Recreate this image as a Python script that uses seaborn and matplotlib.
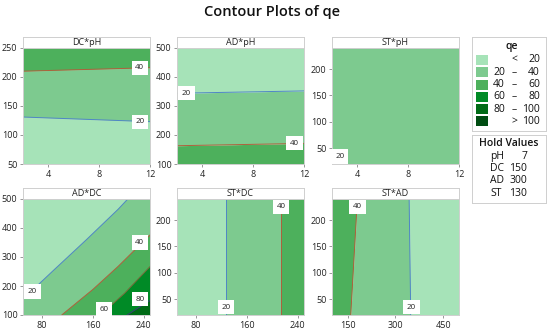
import numpy as np
import matplotlib
matplotlib.use("Agg")
import matplotlib.pyplot as plt
import seaborn as sns
from matplotlib.patches import Rectangle

# ranges of the factors
ph_range = [2, 12]
dc_range = [50, 250]
ad_range = [100, 500]
st_range = [20, 240]

# qe bands and their colours
band_labels = [("", "<", "20"), ("20", "\u2013", "40"), ("40", "\u2013", "60"),
               ("60", "\u2013", "80"), ("80", "\u2013", "100"), ("", ">", "100")]
band_colors = ["#a6e3b8", "#7dca8f", "#4db05c", "#008a26", "#006b16", "#004d12"]
line_colors = {20: "#4f86c6", 40: "#b0603c", 60: "#7a6a3a", 80: "#3b3b7a"}

hold_names = ["pH", "DC", "AD", "ST"]
hold_values = ["7", "150", "300", "130"]

# contour lines
dcph_x = [2, 12]
dcph_20 = [131, 123]
dcph_40 = [210, 216]

adph_x = [2, 12]
adph_20 = [344, 352]
adph_40 = [163, 171]

stph_20_x = [2, 2.5]
stph_20_y = [47, 20]

addc_20_x = [50, 100, 150, 200, 215]
addc_20_y = [155, 258, 360, 465, 500]
addc_40_x = [111, 160, 200, 250]
addc_40_y = [100, 188, 268, 376]
addc_60_x = [172, 210, 250]
addc_60_y = [100, 175, 267]
addc_80_x = [214, 250]
addc_80_y = [100, 150]

stdc_20 = 127
stdc_40 = 214

stad_y = [20, 240]
stad_40 = [159, 180]
stad_20 = [348, 343]

W, H = 550, 331
sns.set_theme(style="white")
plt.rcParams["font.family"] = ["Open Sans", "DejaVu Sans"]

fig = plt.figure(figsize=(W / 100, H / 100), dpi=100)
fig.patch.set_facecolor("white")


def px_axes(l, t, r, b):
    return fig.add_axes([l / W, 1 - b / H, (r - l) / W, (b - t) / H])


def panel(l, t, r, b, title, xr, yr, xt, yt):
    hdr = px_axes(l, t - 11.5, r, t)
    hdr.set_xticks([]); hdr.set_yticks([])
    for s in hdr.spines.values():
        s.set_color("#cfcfcf"); s.set_linewidth(0.7)
    hdr.text(0.5, 0.45, title, ha="center", va="center", fontsize=6.5,
             transform=hdr.transAxes, color="#222222")
    ax = px_axes(l, t, r, b)
    ax.set_xlim(xr); ax.set_ylim(yr)
    ax.set_xticks(xt); ax.set_yticks(yt)
    ax.tick_params(axis="both", which="both", direction="out", length=2.5, width=0.6,
                   color="#888888", labelsize=6.5, labelcolor="#222222", pad=1.5,
                   bottom=True, left=True)
    for s in ax.spines.values():
        s.set_color("#cfcfcf"); s.set_linewidth(0.7)
    return ax


def cline(ax, x, y, level):
    sns.lineplot(x=x, y=y, ax=ax, sort=False, estimator=None, color=line_colors[level],
                 lw=0.7, legend=False)


def clabel(ax, x, y, txt):
    ax.text(x, y, txt, ha="center", va="center", fontsize=5.8, color="#222222", zorder=5,
            bbox=dict(boxstyle="square,pad=0.45", fc="white", ec="none"))


fill = dict(lw=0, antialiased=False)

# DC*pH
ax = panel(23, 48, 150, 164, "DC*pH", ph_range, dc_range, [4, 8, 12], [50, 100, 150, 200, 250])
ax.fill_between(dcph_x, dc_range[0], dcph_20, color=band_colors[0], **fill)
ax.fill_between(dcph_x, dcph_20, dcph_40, color=band_colors[1], **fill)
ax.fill_between(dcph_x, dcph_40, dc_range[1], color=band_colors[2], **fill)
cline(ax, dcph_x, dcph_20, 20)
cline(ax, dcph_x, dcph_40, 40)
clabel(ax, 11.2, 123, "20")
clabel(ax, 11.2, 216, "40")

# AD*pH
ax = panel(177, 48, 304, 164, "AD*pH", ph_range, ad_range, [4, 8, 12], [100, 200, 300, 400, 500])
ax.fill_between(adph_x, ad_range[0], adph_40, color=band_colors[2], **fill)
ax.fill_between(adph_x, adph_40, adph_20, color=band_colors[1], **fill)
ax.fill_between(adph_x, adph_20, ad_range[1], color=band_colors[0], **fill)
cline(ax, adph_x, adph_20, 20)
cline(ax, adph_x, adph_40, 40)
clabel(ax, 2.75, 344, "20")
clabel(ax, 11.25, 172, "40")

# ST*pH
ax = panel(332, 48, 459, 164, "ST*pH", ph_range, st_range, [4, 8, 12], [50, 100, 150, 200])
ax.fill_between(ph_range, st_range[0], st_range[1], color=band_colors[1], **fill)
ax.fill([ph_range[0]] + stph_20_x, [st_range[0]] + stph_20_y, color=band_colors[0], lw=0)
cline(ax, stph_20_x, stph_20_y, 20)
clabel(ax, 2.65, 34, "20")

# AD*DC
ax = panel(23, 199, 150, 315, "AD*DC", dc_range, ad_range, [80, 160, 240], [100, 200, 300, 400, 500])
ax.fill_between(dc_range, ad_range[0], ad_range[1], color=band_colors[0], **fill)
ax.fill(addc_20_x + [dc_range[1], dc_range[1], dc_range[0]],
        addc_20_y + [ad_range[1], ad_range[0], ad_range[0]], color=band_colors[1], lw=0)
for xs, ys, k in [(addc_40_x, addc_40_y, 2), (addc_60_x, addc_60_y, 3), (addc_80_x, addc_80_y, 4)]:
    ax.fill(xs + [dc_range[1]], ys + [ad_range[0]], color=band_colors[k], lw=0)
cline(ax, addc_20_x, addc_20_y, 20)
cline(ax, addc_40_x, addc_40_y, 40)
cline(ax, addc_60_x, addc_60_y, 60)
cline(ax, addc_80_x, addc_80_y, 80)
clabel(ax, 65, 181, "20")
clabel(ax, 234, 350, "40")
clabel(ax, 177, 119, "60")
clabel(ax, 234, 155, "80")

# ST*DC
ax = panel(177, 199, 304, 315, "ST*DC", dc_range, st_range, [80, 160, 240], [50, 100, 150, 200])
ax.fill_betweenx(st_range, dc_range[0], stdc_20, color=band_colors[0], **fill)
ax.fill_betweenx(st_range, stdc_20, stdc_40, color=band_colors[1], **fill)
ax.fill_betweenx(st_range, stdc_40, dc_range[1], color=band_colors[2], **fill)
cline(ax, [stdc_20, stdc_20], st_range, 20)
cline(ax, [stdc_40, stdc_40], st_range, 40)
clabel(ax, 214, 225, "40")
clabel(ax, 127, 35, "20")

# ST*AD
ax = panel(332, 199, 459, 315, "ST*AD", ad_range, st_range, [150, 300, 450], [50, 100, 150, 200])
ax.fill_betweenx(stad_y, ad_range[0], stad_40, color=band_colors[2], **fill)
ax.fill_betweenx(stad_y, stad_40, stad_20, color=band_colors[1], **fill)
ax.fill_betweenx(stad_y, stad_20, ad_range[1], color=band_colors[0], **fill)
cline(ax, stad_40, stad_y, 40)
cline(ax, stad_20, stad_y, 20)
clabel(ax, 180, 225, "40")
clabel(ax, 350, 35, "20")

# legend box
lg = px_axes(472, 37, 546, 131)
lg.set_xlim(472, 546); lg.set_ylim(131, 37)
lg.set_xticks([]); lg.set_yticks([])
for s in lg.spines.values():
    s.set_color("#cfcfcf"); s.set_linewidth(0.7)
lg.text(512, 47, "qe", ha="center", va="center", fontsize=7.5, fontweight="semibold", color="#111111")
for i, (lo, sym, hi) in enumerate(band_labels):
    yc = 60 + i * 12.3
    lg.add_patch(Rectangle((476, yc - 5), 12, 10, color=band_colors[i], lw=0))
    if lo:
        lg.text(499, yc, lo, ha="center", va="center", fontsize=7.5, color="#111111")
    lg.text(514, yc, sym, ha="center", va="center", fontsize=7.5, color="#111111")
    lg.text(540, yc, hi, ha="right", va="center", fontsize=7.5, color="#111111")

hv = px_axes(472, 135, 546, 203)
hv.set_xlim(472, 546); hv.set_ylim(203, 135)
hv.set_xticks([]); hv.set_yticks([])
for s in hv.spines.values():
    s.set_color("#cfcfcf"); s.set_linewidth(0.7)
hv.text(509, 143, "Hold Values", ha="center", va="center", fontsize=7.5, fontweight="semibold", color="#111111")
for i, (n, v) in enumerate(zip(hold_names, hold_values)):
    yc = 156.5 + i * 12.2
    hv.text(490, yc, n, ha="left", va="center", fontsize=7.5, color="#111111")
    hv.text(527, yc, v, ha="right", va="center", fontsize=7.5, color="#111111")

fig.suptitle("Contour Plots of qe", x=0.495, y=1 - 12 / H, va="center", fontsize=10.5,
             fontweight="semibold", color="#111111")

fig.savefig("out.png", dpi=100, facecolor="white")
